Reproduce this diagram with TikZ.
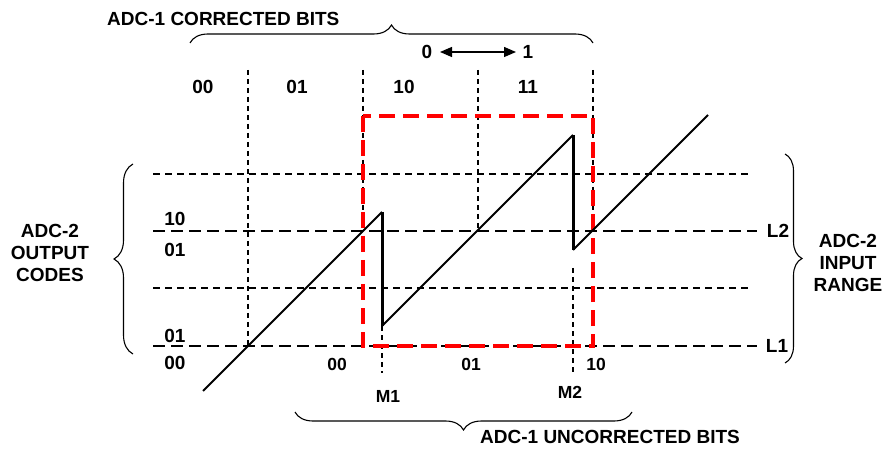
\documentclass[tikz,border=0pt]{standalone}
\usepackage{fontspec}
\setmainfont{Liberation Sans}
\usetikzlibrary{decorations.pathreplacing,arrows.meta}
\begin{document}
\begin{tikzpicture}[x=1pt,y=-1pt,
  lbl/.style={font=\bfseries\fontsize{19}{22}\selectfont, inner sep=0pt},
  slbl/.style={font=\bfseries\fontsize{17.5}{20.5}\selectfont, inner sep=0pt},
  gridline/.style={line width=1.5pt, dash pattern=on 7pt off 5pt},
  levline/.style={line width=1.8pt, dash pattern=on 12pt off 6pt},
  vgrid/.style={line width=1.4pt, dash pattern=on 5pt off 4pt},
  redbox/.style={draw=red, line width=3.6pt, dash pattern=on 16pt off 8pt},
  saw/.style={line width=1.8pt},
  drop/.style={line width=3pt},
  brc/.style={decorate, decoration={brace, amplitude=#1}, line width=1.1pt}]
\useasboundingbox (0,0) rectangle (884,449);

% horizontal grid
\coordinate (t1) at (153,174); \coordinate (t2) at (752,174);
\coordinate (m1) at (153,288); \coordinate (m2) at (752,288);
\coordinate (a1) at (153,231); \coordinate (a2) at (757,231);
\coordinate (b1) at (153,346); \coordinate (b2) at (757,346);
\draw[gridline] (t1) -- (t2);
\draw[gridline] (m1) -- (m2);
\draw[levline] (a1) -- (a2);
\draw[levline] (b1) -- (b2);

% vertical grid
\coordinate (v1t) at (248,70); \coordinate (v1b) at (248,346);
\coordinate (v2t) at (363,70); \coordinate (v2b) at (363,231);
\coordinate (v3t) at (478,70); \coordinate (v3b) at (478,231);
\coordinate (v4t) at (593,70); \coordinate (v4b) at (593,231);
\draw[vgrid] (v1t) -- (v1b);
\draw[vgrid] (v2t) -- (v2b);
\draw[vgrid] (v3t) -- (v3b);
\draw[vgrid] (v4t) -- (v4b);

% M markers
\coordinate (M1t) at (382,326); \coordinate (M1b) at (382,373);
\coordinate (M2t) at (573,268); \coordinate (M2b) at (573,373);
\draw[vgrid] (M1t) -- (M1b);
\draw[vgrid] (M2t) -- (M2b);

% red box
\coordinate (r1) at (363,116); \coordinate (r2) at (593,346);
\draw[redbox] (r1) rectangle (r2);

% sawtooth
\coordinate (s0) at (203,391);
\coordinate (s1) at (382,212);
\coordinate (s2) at (382,326);
\coordinate (s3) at (573,135);
\coordinate (s4) at (573,250);
\coordinate (s5) at (708,115);
\draw[saw] (s0) -- (s1);
\draw[drop] (s1) -- (s2);
\draw[saw] (s2) -- (s3);
\draw[drop] (s3) -- (s4);
\draw[saw] (s4) -- (s5);

% braces
\coordinate (bt1) at (190,43); \coordinate (bt2) at (593,43);
\draw[brc=18pt] (bt1) -- (bt2);
\coordinate (bb1) at (632,412); \coordinate (bb2) at (295,412);
\draw[brc=18pt] (bb1) -- (bb2);
\coordinate (bl1) at (133,354); \coordinate (bl2) at (133,164);
\draw[brc=19pt] (bl1) -- (bl2);
\coordinate (br1) at (785,154); \coordinate (br2) at (785,363);
\draw[brc=17pt] (br1) -- (br2);

% arrow 0 <-> 1
\node[lbl] (zero) at (427,52) {0};
\node[lbl] (one) at (528,52) {1};
\coordinate (ar1) at (440,52); \coordinate (ar2) at (516,52);
\draw[{Triangle[length=12pt,width=10pt]}-{Triangle[length=12pt,width=10pt]}, line width=1.3pt]
  (ar1) -- (ar2);

% text
\node[lbl, anchor=west] (title1) at (107,19) {ADC-1 CORRECTED BITS};
\node[lbl, anchor=west] (title2) at (480,437) {ADC-1 UNCORRECTED BITS};

\node[lbl] (c00) at (203,87) {00};
\node[lbl] (c01) at (297,87) {01};
\node[lbl] (c10) at (404,87) {10};
\node[lbl] (c11) at (528,87) {11};

\node[lbl] (l10) at (175,219) {10};
\node[lbl] (l01a) at (175,250) {01};
\node[lbl] (l01b) at (175,336) {01};
\node[lbl] (l00) at (175,363) {00};

\node[slbl] (u00) at (337,364) {00};
\node[slbl] (u01) at (471,364) {01};
\node[slbl] (u10) at (596,364) {10};
\node[slbl] (mm1) at (388,396) {M1};
\node[slbl] (mm2) at (570,392) {M2};

\node[lbl] (L2) at (778,231) {L2};
\node[lbl] (L1) at (777,346) {L1};

\node[lbl, align=center] (outc) at (50,253) {ADC-2\\OUTPUT\\CODES};
\node[lbl, align=center] (inr) at (848,263) {ADC-2\\INPUT\\RANGE};
\end{tikzpicture}
\end{document}
